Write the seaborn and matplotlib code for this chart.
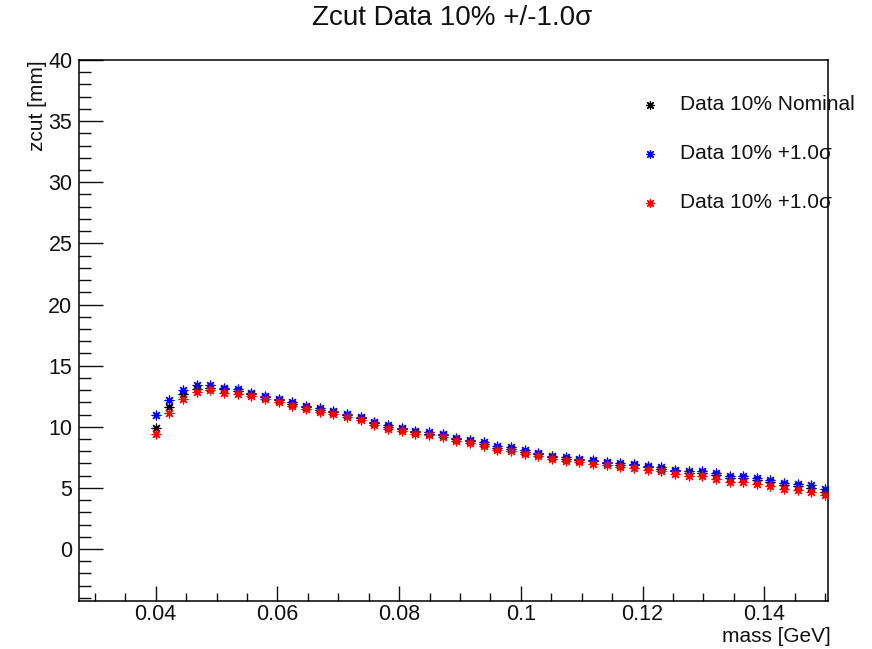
import numpy as np
import pandas as pd
import matplotlib
matplotlib.use("Agg")
import matplotlib.pyplot as plt
import seaborn as sns

# ---- data ----
mass = np.linspace(0.04, 0.15, 50)

zcut_nominal = [9.93, 11.60, 12.66, 13.10, 13.20, 13.05, 12.95, 12.66, 12.40, 12.15,
                11.90, 11.62, 11.40, 11.20, 10.95, 10.70, 10.30, 10.00, 9.80, 9.55,
                9.45, 9.30, 9.00, 8.80, 8.62, 8.30, 8.20, 7.95, 7.77, 7.50,
                7.40, 7.27, 7.17, 7.03, 6.90, 6.84, 6.70, 6.57, 6.35, 6.21,
                6.21, 6.02, 5.78, 5.80, 5.61, 5.48, 5.20, 5.12, 5.00, 4.66]

zcut_plus = [11.00, 12.17, 13.00, 13.40, 13.40, 13.20, 13.10, 12.80, 12.52, 12.27,
             12.02, 11.73, 11.51, 11.31, 11.06, 10.81, 10.41, 10.11, 9.91, 9.66,
             9.56, 9.41, 9.11, 8.91, 8.73, 8.41, 8.31, 8.06, 7.88, 7.61,
             7.51, 7.38, 7.28, 7.14, 7.01, 6.96, 6.82, 6.70, 6.48, 6.35,
             6.36, 6.18, 5.95, 5.98, 5.80, 5.68, 5.41, 5.34, 5.23, 4.93]

zcut_minus = [9.44, 11.13, 12.30, 12.85, 13.00, 12.80, 12.70, 12.50, 12.24, 11.99,
              11.74, 11.46, 11.24, 11.04, 10.79, 10.54, 10.14, 9.84, 9.64, 9.39,
              9.29, 9.14, 8.84, 8.64, 8.46, 8.14, 8.04, 7.79, 7.61, 7.34,
              7.24, 7.10, 6.99, 6.85, 6.71, 6.64, 6.49, 6.35, 6.12, 5.97,
              5.96, 5.76, 5.51, 5.52, 5.32, 5.18, 4.89, 4.80, 4.67, 4.39]

series_labels = ["Data 10% Nominal", "Data 10% +1.0\u03c3", "Data 10% +1.0\u03c3"]
series_colors = ["black", "#0000ff", "#ff0000"]
title_text = "Zcut Data 10% +/-1.0\u03c3"

# ---- style ----
sns.set_style("ticks")
plt.rcParams["font.family"] = ["Liberation Sans", "DejaVu Sans"]
plt.rcParams["text.color"] = "#111111"
plt.rcParams["xtick.color"] = "#111111"
plt.rcParams["ytick.color"] = "#111111"
plt.rcParams["axes.labelcolor"] = "#111111"

W, H = 872, 649
fig = plt.figure(figsize=(W / 100, H / 100), dpi=100)
L, R, T, B = 79.3, 827.7, 60.0, 601.0
ax = fig.add_axes([L / W, 1 - B / H, (R - L) / W, (B - T) / H])

star = (8, 2, 0)
for ys, lab, col in zip([zcut_nominal, zcut_plus, zcut_minus], series_labels, series_colors):
    df = pd.DataFrame({"mass": mass, "zcut": ys})
    sns.scatterplot(data=df, x="mass", y="zcut", ax=ax, color=col, marker=star,
                    s=40, linewidth=0.9, label=lab, zorder=3)

ax.set_xlim(0.02745, 0.15042)
ax.set_ylim(-4.25, 40)

ax.set_xticks([0.04, 0.06, 0.08, 0.10, 0.12, 0.14])
ax.set_xticklabels(["0.04", "0.06", "0.08", "0.1", "0.12", "0.14"])
ax.set_xticks(np.arange(0.03, 0.1505, 0.005), minor=True)
ax.set_yticks(np.arange(0, 41, 5))
ax.set_yticks(np.arange(-4, 41, 1), minor=True)

for s in ax.spines.values():
    s.set_visible(True)
    s.set_linewidth(1.1)
    s.set_color("black")

ax.tick_params(axis="x", which="major", direction="in", length=11, width=1.0,
               labelsize=15.5, pad=2, top=False)
ax.tick_params(axis="x", which="minor", direction="in", length=5.5, width=1.0, top=False)
ax.tick_params(axis="y", which="major", direction="in", length=17, width=1.0,
               labelsize=15.5, pad=5, right=False)
ax.tick_params(axis="y", which="minor", direction="in", length=8.5, width=1.0, right=False)

ax.set_xlabel("mass [GeV]", fontsize=15)
xl = ax.xaxis.label
ax.xaxis.set_label_coords((831 - L) / (R - L), (B - 636) / (B - T))
xl.set_ha("right")
xl.set_va("center")

ax.set_ylabel("zcut [mm]", fontsize=15)
yl = ax.yaxis.label
ax.yaxis.set_label_coords((37 - L) / (R - L), 1.0)
yl.set_rotation_mode("default")
yl.set_ha("center")
yl.set_va("top")

fig.text(452.5 / W, 1 - 18 / H, title_text, ha="center", va="center", fontsize=20)

leg = ax.legend(loc="upper left", bbox_to_anchor=(640 / W, 1 - 95 / H),
                bbox_transform=fig.transFigure, frameon=False, fontsize=15,
                handlelength=1.0, handletextpad=0.9, labelspacing=1.45,
                borderpad=0, borderaxespad=0, markerscale=0.9)

fig.savefig("out.png", dpi=100)
